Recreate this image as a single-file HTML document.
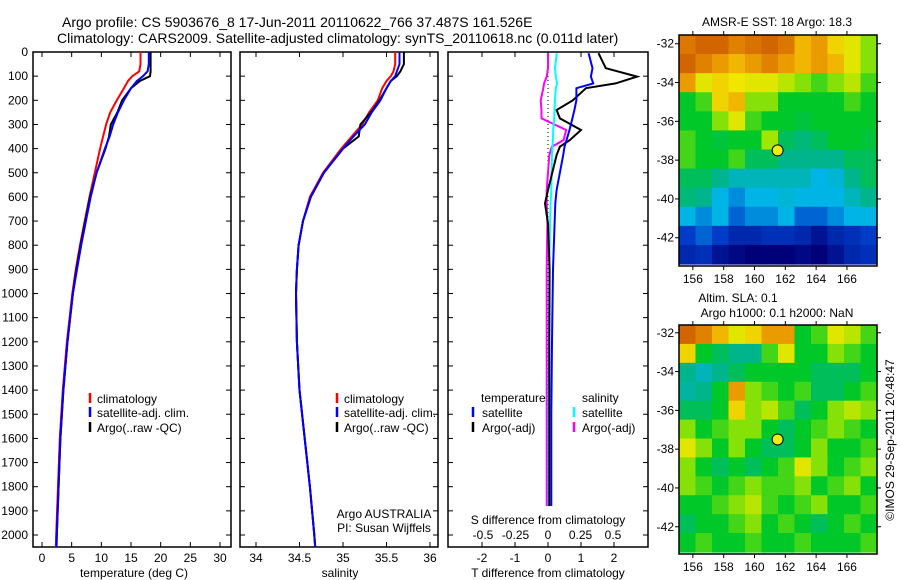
<!DOCTYPE html>
<html><head><meta charset="utf-8"><style>
body{margin:0;background:#fff;}
svg{display:block;font-family:"Liberation Sans",sans-serif;}
text{fill:#000;}
</style></head><body>
<svg id="fig" width="900" height="580" viewBox="0 0 900 580">
<rect x="0" y="0" width="900" height="580" fill="#fff"/>
<text x="62" y="27" font-size="14">Argo profile: CS 5903676_8 17-Jun-2011 20110622_766 37.487S 161.526E</text>
<text x="57" y="43" font-size="14">Climatology: CARS2009. Satellite-adjusted climatology: synTS_20110618.nc (0.011d later)</text>
<g id="g"></g>
</svg>
<script>
// ---- data ----
const depths = [0,50,80,100,120,150,200,250,300,350,400,500,600,700,800,900,1000,1200,1400,1600,1800,2000,2050];
const tempClim = [16.6,16.6,16.4,15.2,14.5,13.8,12.6,11.5,10.8,10.3,9.8,8.9,8.0,7.2,6.4,5.7,5.1,4.2,3.5,3.0,2.7,2.4,2.35];
const tempSat  = [18.0,18.0,17.8,17.0,16.0,15.0,13.8,12.8,12.0,11.4,10.6,9.2,8.2,7.4,6.6,5.9,5.2,4.3,3.6,3.1,2.8,2.5,2.45];
const tempArgo = [18.3,18.3,18.3,18.2,16.5,15.0,13.5,12.7,11.6,11.3,10.7,9.2,8.1,7.3,6.5,5.8,5.2,4.3,3.6,3.1,2.8,2.5,2.45];
const salClim = [35.6,35.6,35.58,35.55,35.5,35.45,35.4,35.3,35.22,35.1,34.98,34.77,34.62,34.54,34.49,34.47,34.46,34.47,34.5,34.56,34.62,34.67,34.68];
const salSat  = [35.65,35.65,35.62,35.6,35.55,35.5,35.43,35.33,35.25,35.12,35.0,34.78,34.63,34.54,34.49,34.47,34.46,34.47,34.5,34.56,34.62,34.67,34.68];
const salArgo = [35.7,35.7,35.66,35.62,35.55,35.5,35.42,35.32,35.2,35.18,35.0,34.78,34.63,34.54,34.49,34.47,34.46,34.47,34.5,34.56,34.62,34.67,34.68];
const dDepths = [5,67,102,130,150,200,240,275,323,365,392,427,572,627,710,900,1200,1500,1880];
const dTSat  = [1.23,1.35,1.3,1.37,0.86,0.86,0.8,0.74,0.65,0.56,0.5,0.46,0.26,0.22,0.2,0.15,0.12,0.1,0.1];
const dTArgo = [1.53,1.75,2.7,2.05,1.15,0.75,0.26,0.36,1.0,0.66,0.36,0.26,0.0,-0.09,0.0,0.05,0.04,0.04,0.04];
const dSSat  = [0.067,0.054,0.06,0.07,0.06,0.054,0.05,0.048,0.04,0.038,0.035,0.03,0.025,0.02,0.015,0.01,0.008,0.005,0.005];
const dSArgo = [0,0,-0.01,-0.03,-0.036,-0.056,-0.05,-0.05,0.14,0.12,0.03,0.01,-0.01,-0.01,-0.005,-0.01,-0.01,-0.01,-0.01];
const depthTicks = [0,100,200,300,400,500,600,700,800,900,1000,1100,1200,1300,1400,1500,1600,1700,1800,1900,2000];
const tTicks = [0,5,10,15,20,25,30];
const sTicks = [34,34.5,35,35.5,36];
const dtTicks = [-2,-1,0,1,2];
const dsTicks = [-0.5,-0.25,0,0.25,0.5];
const dsLabels = ['-0.5','-0.25','0','0.25','0.5'];
const lonTicks = [156,158,160,162,164,166];
const latTicks = [-32,-34,-36,-38,-40,-42];
const sstGrid = [
[0.92,0.95,0.95,0.9,0.93,0.95,0.92,0.8,0.85,0.75,0.7,0.6],
[0.95,0.9,0.85,0.8,0.85,0.9,0.85,0.8,0.85,0.8,0.7,0.6],
[0.85,0.7,0.75,0.72,0.7,0.7,0.65,0.6,0.55,0.6,0.65,0.55],
[0.5,0.55,0.75,0.8,0.6,0.6,0.5,0.5,0.5,0.5,0.55,0.5],
[0.5,0.5,0.6,0.7,0.55,0.5,0.5,0.48,0.5,0.5,0.5,0.5],
[0.55,0.5,0.48,0.5,0.5,0.62,0.45,0.42,0.45,0.5,0.5,0.48],
[0.55,0.5,0.5,0.55,0.45,0.45,0.4,0.4,0.4,0.4,0.45,0.45],
[0.45,0.45,0.4,0.35,0.35,0.35,0.35,0.35,0.3,0.32,0.4,0.45],
[0.42,0.4,0.3,0.25,0.3,0.3,0.32,0.3,0.3,0.3,0.35,0.4],
[0.3,0.25,0.3,0.2,0.25,0.25,0.3,0.2,0.2,0.25,0.3,0.3],
[0.15,0.2,0.15,0.1,0.1,0.12,0.12,0.1,0.05,0.1,0.12,0.15],
[0.1,0.12,0.05,0.02,0.0,0.0,0.0,0.02,0.0,0.05,0.1,0.12]];
const slaGrid = [
[0.95,0.9,0.8,0.7,0.75,0.85,0.85,0.5,0.55,0.7,0.65,0.55],
[0.75,0.5,0.45,0.4,0.4,0.55,0.7,0.5,0.5,0.6,0.55,0.5],
[0.4,0.35,0.4,0.45,0.5,0.5,0.5,0.5,0.45,0.45,0.45,0.5],
[0.38,0.4,0.5,0.85,0.6,0.55,0.5,0.55,0.45,0.45,0.5,0.55],
[0.45,0.45,0.5,0.75,0.6,0.65,0.55,0.45,0.5,0.6,0.65,0.6],
[0.6,0.5,0.55,0.6,0.6,0.5,0.45,0.5,0.55,0.6,0.55,0.5],
[0.7,0.6,0.5,0.6,0.5,0.45,0.45,0.5,0.6,0.5,0.5,0.55],
[0.6,0.5,0.45,0.5,0.45,0.5,0.55,0.7,0.6,0.5,0.55,0.6],
[0.6,0.55,0.5,0.55,0.6,0.55,0.55,0.6,0.5,0.55,0.6,0.5],
[0.5,0.5,0.55,0.6,0.65,0.55,0.5,0.55,0.6,0.5,0.5,0.55],
[0.45,0.5,0.5,0.55,0.6,0.5,0.55,0.5,0.45,0.5,0.55,0.5],
[0.5,0.55,0.5,0.5,0.55,0.5,0.5,0.55,0.5,0.5,0.5,0.55]];
const argoLon = 161.5, argoLat = -37.5;

// ---- helpers ----
const NS='http://www.w3.org/2000/svg';
const G=document.getElementById('g');
function mk(tag,attrs,parent){const e=document.createElementNS(NS,tag);for(const k in attrs)e.setAttribute(k,attrs[k]);(parent||G).appendChild(e);return e;}
function txt(x,y,s,size,anchor,parent){const t=mk('text',{x:x,y:y,'font-size':size,'text-anchor':anchor||'start'},parent);t.textContent=s;return t;}
const top0=52, bot=547;
const yD = d => top0 + d*0.2415;
function lin(d0,d1,p0,p1){return v=>p0+(v-d0)*(p1-p0)/(d1-d0);}

function panel(x0,x1,name){
  const r=mk('rect',{x:x0,y:top0,width:x1-x0,height:bot-top0,fill:'#fff',stroke:'#000','stroke-width':1.5});
  
  
  depthTicks.forEach(d=>{mk('line',{x1:x0,x2:x0+5,y1:yD(d),y2:yD(d),stroke:'#000'});mk('line',{x1:x1,x2:x1-5,y1:yD(d),y2:yD(d),stroke:'#000'});});
}
function profile(xs,color,name){
  const pts=xs.map(v=>v[0]+','+v[1]).join(' ');
  const p=mk('polyline',{points:pts,fill:'none',stroke:color,'stroke-width':2});
  
  
  return p;
}
function series(vals,dep,xf,color,name){
  return profile(vals.map((v,i)=>[xf(v).toFixed(1),yD(dep[i]).toFixed(1)]),color,name);
}
function legendBar(x,y,color){mk('line',{x1:x,x2:x,y1:y-10,y2:y,stroke:color,'stroke-width':2.5});}

// Panel 1 temperature
const xT=lin(0,30,42,220);
panel(33,231,'temperature-panel');
tTicks.forEach(t=>{const x=xT(t);mk('line',{x1:x,x2:x,y1:top0,y2:top0+5,stroke:'#000'});mk('line',{x1:x,x2:x,y1:bot,y2:bot-5,stroke:'#000'});txt(x,562,String(t),12,'middle');});
depthTicks.forEach(d=>{txt(28,yD(d)+4,String(d),12,'end');});
txt(134,577,'temperature (deg C)',12,'middle');
series(tempClim,depths,xT,'#f00','temp-climatology-line');
series(tempArgo,depths,xT,'#000','temp-argo-line');
series(tempSat,depths,xT,'#00f','temp-satellite-line');
legendBar(90,403,'#f00');txt(97,403,'climatology',12);
legendBar(90,417,'#00f');txt(97,417,'satellite-adj. clim.',12);
legendBar(90,432,'#000');txt(97,432,'Argo(..raw -QC)',12);

// Panel 2 salinity
const xS=lin(34,36,256,430);
panel(240,438,'salinity-panel');
sTicks.forEach(t=>{const x=xS(t);mk('line',{x1:x,x2:x,y1:top0,y2:top0+5,stroke:'#000'});mk('line',{x1:x,x2:x,y1:bot,y2:bot-5,stroke:'#000'});txt(x,562,String(t),12,'middle');});
txt(340,577,'salinity',12,'middle');
series(salClim,depths,xS,'#f00','sal-climatology-line');
series(salArgo,depths,xS,'#000','sal-argo-line');
series(salSat,depths,xS,'#00f','sal-satellite-line');
legendBar(337,403,'#f00');txt(344,403,'climatology',12);
legendBar(337,417,'#00f');txt(344,417,'satellite-adj. clim.',12);
legendBar(337,432,'#000');txt(344,432,'Argo(..raw -QC)',12);
txt(384,518,'Argo AUSTRALIA',12,'middle');
txt(384,532,'PI: Susan Wijffels',12,'middle');

// Panel 3 differences
const xDT=lin(0,2,548,614);
const xDS=lin(0,0.5,548,613);
panel(448,648,'difference-panel');
dtTicks.forEach(t=>{const x=xDT(t);mk('line',{x1:x,x2:x,y1:top0,y2:top0+5,stroke:'#000'});mk('line',{x1:x,x2:x,y1:bot,y2:bot-5,stroke:'#000'});txt(x,562,String(t),12,'middle');});
dsTicks.forEach((t,i)=>{txt(xDS(t),539,dsLabels[i],12,'middle');});
txt(548,524,'S difference from climatology',12,'middle');
txt(548,577,'T difference from climatology',12,'middle');
mk('line',{x1:548,x2:548,y1:yD(0),y2:yD(1880),stroke:'#000','stroke-dasharray':'1 3'});
series(dSArgo,dDepths,xDS,'#f0f','sdiff-argo-line');
series(dSSat,dDepths,xDS,'#0ff','sdiff-satellite-line');
series(dTArgo,dDepths,xDT,'#000','tdiff-argo-line');
series(dTSat,dDepths,xDT,'#00f','tdiff-satellite-line');
txt(481,402,'temperature',12);
legendBar(473,417,'#00f');txt(482,417,'satellite',12);
legendBar(473,432,'#000');txt(482,432,'Argo(-adj)',12);
txt(582,402,'salinity',12);
legendBar(574,417,'#0ff');txt(582,417,'satellite',12);
legendBar(574,432,'#f0f');txt(582,432,'Argo(-adj)',12);

// ---- maps ----
const stops=[[0,[0,0,120]],[0.15,[0,60,200]],[0.3,[0,180,230]],[0.4,[0,180,140]],[0.5,[0,200,40]],[0.62,[160,230,0]],[0.72,[240,230,0]],[0.82,[240,170,0]],[0.92,[220,120,0]],[1,[190,70,0]]];
function cmap(v){for(let i=1;i<stops.length;i++){if(v<=stops[i][0]){const a=stops[i-1],b=stops[i];const f=(v-a[0])/(b[0]-a[0]);return 'rgb('+a[1].map((c,k)=>Math.round(c+(b[1][k]-c)*f)).join(',')+')';}}return 'rgb(190,70,0)';}
function map(grid,x0,y0,x1,y1,latTop,name){
  const xL=lin(155.1,167.95,x0,x1);
  const yL=lin(latTop,latTop-(y1-y0)/19.4,y0,y1);
  const rows=grid.length, cols=grid[0].length;
  const cw=(x1-x0)/cols, ch=(y1-2-y0)/rows;
  grid.forEach((row,r)=>row.forEach((v,c)=>{
    const cell=mk('rect',{x:(x0+c*cw).toFixed(2),y:(y0+r*ch).toFixed(2),width:(cw+0.6).toFixed(2),height:(ch+0.6).toFixed(2),fill:cmap(v)});
    
    
  }));
  const b=mk('rect',{x:x0,y:y0,width:x1-x0,height:y1-y0,fill:'none',stroke:'#000','stroke-width':1.5});
  
  
  lonTicks.forEach(l=>{const x=xL(l);mk('line',{x1:x,x2:x,y1:y0,y2:y0-4,stroke:'#000'});mk('line',{x1:x,x2:x,y1:y1,y2:y1+4,stroke:'#000'});txt(x,y1+17,String(l),12,'middle');});
  latTicks.forEach(l=>{const y=yL(l);if(y<y0||y>y1)return;mk('line',{x1:x0,x2:x0-4,y1:y,y2:y,stroke:'#000'});mk('line',{x1:x1,x2:x1+4,y1:y,y2:y,stroke:'#000'});txt(x0-5,y+4,String(l),12,'end');});
  const dot=mk('circle',{cx:xL(argoLon),cy:yL(argoLat),r:5.5,fill:'#ee0',stroke:'#000','stroke-width':1});
  
  
}
map(sstGrid,679,35,877,266,-31.55,'sst-map');
txt(777,26,'AMSR-E SST: 18 Argo: 18.3',12,'middle');
map(slaGrid,679,325,877,554,-31.6,'sla-map');
txt(738,302,'Altim. SLA: 0.1',12,'middle');
txt(777,317,'Argo h1000: 0.1 h2000: NaN',12,'middle');
const c=txt(0,0,'©IMOS 29-Sep-2011 20:48:47',12,'middle');
c.setAttribute('transform','translate(894,440) rotate(-90)');


</script>
</body></html>
